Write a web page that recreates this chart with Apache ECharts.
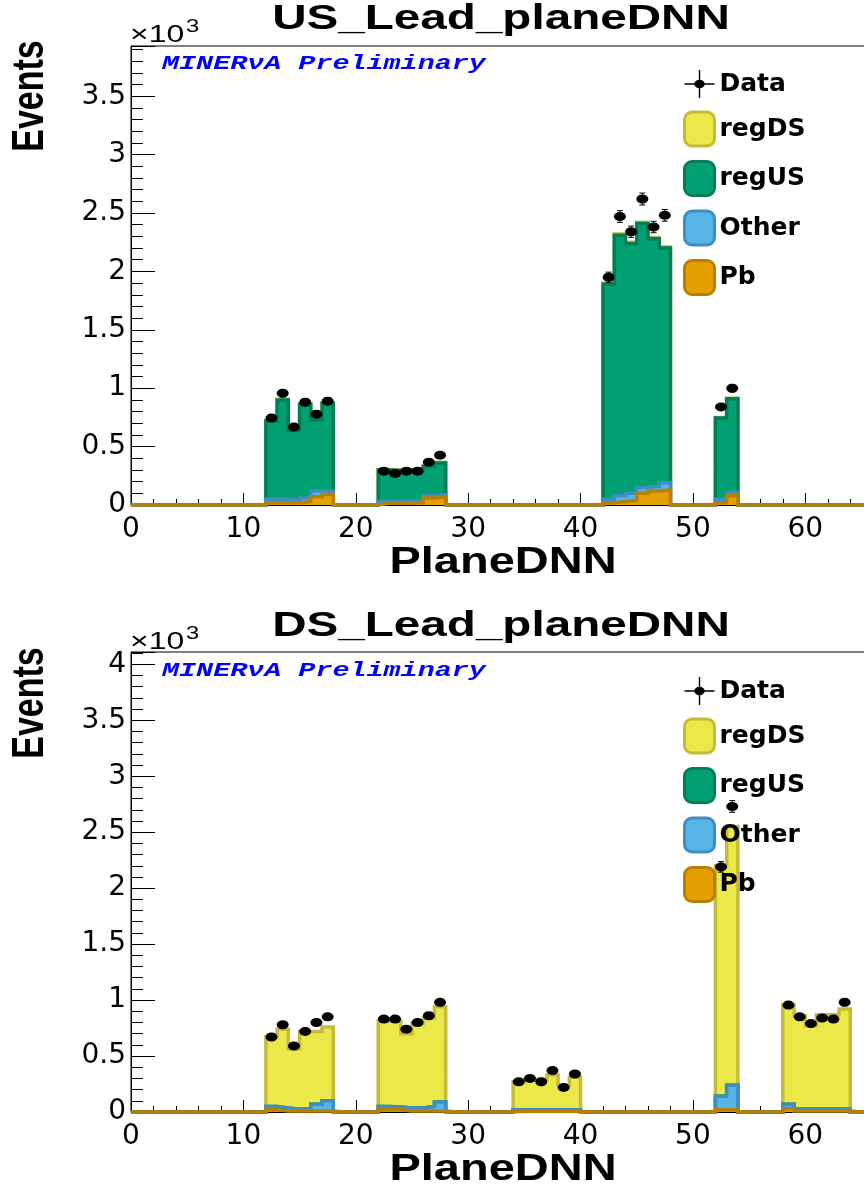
<!DOCTYPE html>
<html><head><meta charset="utf-8">
<script src="https://cdn.jsdelivr.net/npm/echarts@6/dist/echarts.min.js"></script>
<style>html,body{margin:0;padding:0;background:#fff}#c{width:864px;height:1189px}</style>
</head><body><div id="c"></div>
<script>
// ---------------- data (values in units of 10^3 events) ----------------
const nBins = 66;                 // PlaneDNN bins of width 1, from 0
const legendNames = ['Data', 'regDS', 'regUS', 'Other', 'Pb'];
const panelTitles = ['US_Lead_planeDNN', 'DS_Lead_planeDNN'];

// US_Lead_planeDNN
const usBins  = [12,13,14,15,16,17, 22,23,24,25,26,27, 42,43,44,45,46,47, 52,53];
const usPb    = [0.02,0.02,0.02,0.03,0.07,0.09, 0.015,0.015,0.015,0.02,0.06,0.07, 0.02,0.03,0.04,0.10,0.12,0.13, 0.02,0.08];
const usOther = [0.03,0.03,0.02,0.03,0.05,0.03, 0.015,0.015,0.015,0.015,0.02,0.02, 0.03,0.05,0.06,0.05,0.04,0.06, 0.03,0.03];
const usRegUS = [0.67,0.85,0.60,0.80,0.61,0.75, 0.27,0.265,0.27,0.27,0.25,0.27, 1.84,2.23,2.14,2.26,2.12,2.01, 0.695,0.80];
const usRegDS = [0.005,0.005,0.005,0.005,0.005,0.005, 0.005,0.005,0.005,0.005,0.005,0.005, 0.01,0.01,0.01,0.01,0.01,0.01, 0.005,0.005];
const usData  = [0.744,0.957,0.667,0.88,0.778,0.889, 0.29,0.27,0.29,0.29,0.367,0.427, 1.95,2.47,2.34,2.62,2.38,2.48, 0.84,1.0];
const usErr   = [0.027,0.031,0.026,0.030,0.028,0.030, 0.017,0.016,0.017,0.017,0.019,0.021, 0.044,0.050,0.048,0.051,0.049,0.050, 0.029,0.032];

// DS_Lead_planeDNN
const dsBins  = [12,13,14,15,16,17, 22,23,24,25,26,27, 34,35,36,37,38,39, 52,53, 58,59,60,61,62,63];
const dsPb    = [0.02,0.01,0.01,0.01,0.01,0.01, 0.02,0.02,0.01,0.01,0.01,0.01, 0.005,0.005,0.005,0.005,0.005,0.005, 0.02,0.02, 0.03,0.01,0.01,0.01,0.01,0.01];
const dsOther = [0.03,0.025,0.015,0.02,0.06,0.09, 0.03,0.025,0.025,0.025,0.04,0.08, 0.015,0.015,0.015,0.015,0.015,0.015, 0.12,0.22, 0.04,0.02,0.02,0.02,0.02,0.02];
const dsRegUS = [0,0,0,0,0,0, 0,0,0,0,0,0, 0,0,0,0,0,0, 0,0, 0,0,0,0,0,0];
const dsRegDS = [0.62,0.705,0.54,0.69,0.65,0.66, 0.76,0.765,0.665,0.755,0.79,0.85, 0.25,0.27,0.27,0.31,0.22,0.29, 2.06,2.31, 0.885,0.83,0.74,0.84,0.84,0.89];
const dsData  = [0.67,0.78,0.59,0.72,0.80,0.85, 0.83,0.83,0.74,0.80,0.86,0.98, 0.27,0.30,0.27,0.37,0.22,0.34, 2.19,2.73, 0.955,0.85,0.79,0.84,0.83,0.98];
const dsErr   = [0.026,0.028,0.024,0.027,0.028,0.029, 0.029,0.029,0.027,0.028,0.029,0.031, 0.016,0.017,0.016,0.019,0.015,0.018, 0.047,0.052, 0.031,0.029,0.028,0.029,0.029,0.031];

// axis setup
const xMin = 0, xMax = 65.4, xInterval = 10;
const yInterval = 0.5;
const yMaxes = [3.93, 4.11];

// ---------------- styles ----------------
const fills   = { regDS: '#EBE84A', regUS: '#00A073', Other: '#56B4E9', Pb: '#E69F00' };
const borders = { regDS: '#C6BB38', regUS: '#007F58', Other: '#3F8EC2', Pb: '#B98000' };

// ---------------- build ----------------
function fullHist(bins, vals) {
  const a = new Array(nBins).fill(0);
  bins.forEach((b, i) => { a[b] = vals[i]; });
  return a;
}
function addArr(a, b) { return a.map((v, i) => v + b[i]); }
function stepData(arr) {
  const d = [];
  for (let i = 0; i < nBins; i++) d.push([i, arr[i]]);
  d.push([nBins, arr[nBins - 1]]);
  return d;
}

const panels = [
  { bins: usBins, pb: usPb, other: usOther, regUS: usRegUS, regDS: usRegDS, data: usData, err: usErr },
  { bins: dsBins, pb: dsPb, other: dsOther, regUS: dsRegUS, regDS: dsRegDS, data: dsData, err: dsErr }
];

const series = [];
panels.forEach((p, k) => {
  const cPb = fullHist(p.bins, p.pb);
  const cOther = addArr(cPb, fullHist(p.bins, p.other));
  const cRegUS = addArr(cOther, fullHist(p.bins, p.regUS));
  const cRegDS = addArr(cRegUS, fullHist(p.bins, p.regDS));
  const layers = [['regDS', cRegDS, 1], ['regUS', cRegUS, 2], ['Other', cOther, 3], ['Pb', cPb, 4]];
  layers.forEach(([name, arr, z]) => {
    series.push({
      type: 'line', name: name, xAxisIndex: k, yAxisIndex: k, z: z,
      step: 'end', symbol: 'none', showSymbol: false, animation: false,
      data: stepData(arr),
      lineStyle: { color: borders[name], width: 3.5, join: 'miter' },
      itemStyle: { color: fills[name] },
      areaStyle: { color: fills[name], opacity: 1 },
      emphasis: { disabled: true }
    });
  });
  series.push({
    type: 'custom', name: 'DataErr' + k, xAxisIndex: k, yAxisIndex: k, z: 6, animation: false,
    data: p.bins.map((b, i) => [b + 0.5, p.data[i], p.err[i]]),
    renderItem: function (params, api) {
      const x = api.value(0), y = api.value(1), e = api.value(2);
      const t = api.coord([x, y + e]), b = api.coord([x, y - e]);
      const cx = t[0], st = { stroke: '#000', lineWidth: 1 };
      return { type: 'group', children: [
        { type: 'line', shape: { x1: cx, y1: t[1], x2: cx, y2: b[1] }, style: st },
        { type: 'line', shape: { x1: cx - 3, y1: t[1], x2: cx + 3, y2: t[1] }, style: st },
        { type: 'line', shape: { x1: cx - 3, y1: b[1], x2: cx + 3, y2: b[1] }, style: st }
      ]};
    }
  });
  series.push({
    type: 'scatter', name: 'Data', xAxisIndex: k, yAxisIndex: k, z: 7, animation: false,
    symbol: 'circle', symbolSize: [12, 9],
    itemStyle: { color: '#000', opacity: 1 },
    data: p.bins.map((b, i) => [b + 0.5, p.data[i]]),
    emphasis: { disabled: true }
  });
});

const gridTops = [46, 652];
const gridBottoms = [1189 - 505, 1189 - 1112];

function xAxisCfg(k) {
  return {
    type: 'value', gridIndex: k, min: xMin, max: xMax, interval: xInterval,
    axisLine: { onZero: false, lineStyle: { color: '#000', width: 1 } },
    axisTick: { inside: true, length: 12, lineStyle: { color: '#000', width: 1 } },
    minorTick: { show: true, splitNumber: 5, length: 6, lineStyle: { color: '#000', width: 1 } },
    splitLine: { show: false },
    axisLabel: { color: '#000', fontFamily: 'DejaVu Sans', fontSize: 28, margin: 11, showMaxLabel: false,
      formatter: v => (Math.abs(v % xInterval) < 1e-6 ? String(v) : '') }
  };
}
function yAxisCfg(k) {
  return {
    type: 'value', gridIndex: k, min: 0, max: yMaxes[k], interval: yInterval,
    axisLine: { onZero: false, lineStyle: { color: '#000', width: 1 } },
    axisTick: { inside: true, length: 24, lineStyle: { color: '#000', width: 1 } },
    minorTick: { show: true, splitNumber: 5, length: 12, lineStyle: { color: '#000', width: 1 } },
    splitLine: { show: false },
    axisLabel: { color: '#000', fontFamily: 'DejaVu Sans', fontSize: 28, margin: 5, showMaxLabel: false,
      formatter: v => (Math.abs(v * 2 - Math.round(v * 2)) < 1e-6 ? String(v) : '') }
  };
}

const dataIcon = 'path://M0 16.3h30v1.4h-30z M14.3 3h1.4v28h-1.4z M9.8 17a5.2 4.2 0 1 1 10.4 0a5.2 4.2 0 1 1 -10.4 0z';
function legendCfg(top) {
  return {
    orient: 'vertical', left: 683, top: top, itemWidth: 30, itemHeight: 34, itemGap: 12.5,
    padding: 0, selectedMode: false, z: 20,
    textStyle: { color: '#000', fontFamily: 'DejaVu Sans', fontWeight: 'bold', fontSize: 25 },
    data: legendNames.map(n => n === 'Data'
      ? { name: n, icon: dataIcon, itemStyle: { color: '#000', borderWidth: 0, opacity: 1 } }
      : { name: n, icon: 'roundRect', itemStyle: { color: fills[n], borderColor: borders[n], borderWidth: 3, opacity: 1 } })
  };
}

function txt(o) { return Object.assign({ type: 'text', z: 30, silent: true }, o); }
const graphics = [];
[0, 1].forEach(k => {
  const dy = k === 0 ? 0 : 607;
  graphics.push(txt({ x: 501, y: 19 + dy, scaleX: 1.36,
    style: { text: panelTitles[k], font: 'bold 35px "Liberation Sans"', fill: '#000', align: 'center', verticalAlign: 'middle' } }));
  graphics.push(txt({ x: 503, y: 563 + dy, scaleX: 1.27,
    style: { text: 'PlaneDNN', font: 'bold 37px "Liberation Sans"', fill: '#000', align: 'center', verticalAlign: 'middle' } }));
  graphics.push(txt({ x: 31, y: 96 + dy, rotation: Math.PI / 2, scaleY: 1.3,
    style: { text: 'Events', font: 'bold 34px "Liberation Sans"', fill: '#000', align: 'center', verticalAlign: 'middle' } }));
  graphics.push(txt({ x: 130, y: 35 + dy, scaleX: 1.33,
    style: { text: '×10', font: '24px "Liberation Sans"', fill: '#000', align: 'left', verticalAlign: 'middle' } }));
  graphics.push(txt({ x: 186, y: 27 + dy, scaleX: 1.25,
    style: { text: '3', font: '19px "Liberation Sans"', fill: '#000', align: 'left', verticalAlign: 'middle' } }));
  graphics.push(txt({ x: 162, y: 64 + dy, scaleX: 1.42,
    style: { text: 'MINERνA Preliminary', font: 'italic bold 20px "Liberation Mono"', fill: '#0000FF', align: 'left', verticalAlign: 'middle' } }));
});

const chart = echarts.init(document.getElementById('c'), null, { renderer: 'canvas' });
chart.setOption({
  animation: false,
  backgroundColor: '#fff',
  grid: [0, 1].map(k => ({ left: 131, right: -2, top: gridTops[k], bottom: gridBottoms[k],
    show: true, borderColor: '#000', borderWidth: 1, backgroundColor: 'transparent', outerBoundsMode: 'none' })),
  xAxis: [xAxisCfg(0), xAxisCfg(1)],
  yAxis: [yAxisCfg(0), yAxisCfg(1)],
  legend: [legendCfg(70), legendCfg(677)],
  series: series,
  graphic: { elements: graphics }
});
</script></body></html>
